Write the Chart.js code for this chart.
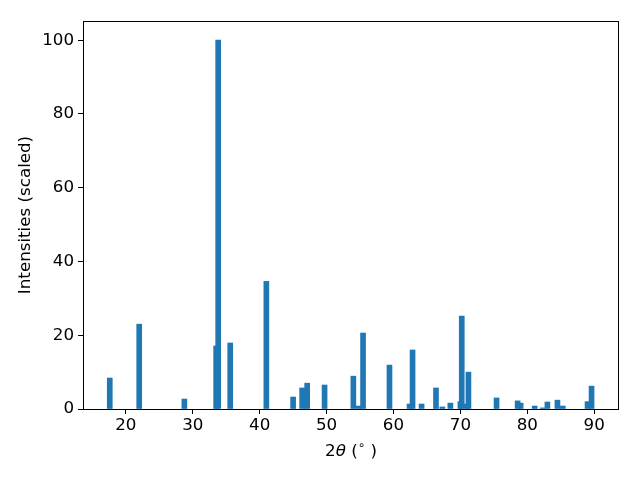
<!DOCTYPE html>
<html>
<head>
<meta charset="utf-8">
<script src="https://cdn.jsdelivr.net/npm/chart.js@4/dist/chart.umd.min.js"></script>
<style>
  html, body { margin: 0; padding: 0; background: #fff; }
  #wrap { width: 640px; height: 480px; }
</style>
</head>
<body>
<div id="wrap"><canvas id="c" width="640" height="480"></canvas></div>
<script>
// peak positions (2theta, degrees) and scaled intensities
const twoTheta = [17.6, 22.0, 28.75, 33.5, 33.8, 35.6, 41.0, 45.0, 46.35, 47.1,
  49.7, 54.0, 54.75, 55.45, 59.4, 62.4, 62.85, 64.2, 66.35, 67.3,
  68.5, 70.0, 70.2, 70.9, 71.2, 75.4, 78.55, 79.0, 81.1, 82.3,
  83.0, 84.5, 85.3, 89.0, 89.6]
const intensity = [8.4, 23.0, 2.7, 17.1, 100, 17.9, 34.6, 3.25, 5.7, 7.0,
  6.5, 8.9, 0.8, 20.6, 11.9, 1.35, 16.0, 1.35, 5.7, 0.55,
  1.6, 2.0, 25.2, 1.35, 10.0, 3.0, 2.2, 1.6, 0.8, 0.3,
  1.9, 2.4, 0.8, 2.0, 6.2]

const xTicks = [20, 30, 40, 50, 60, 70, 80, 90]
const yTicks = [0, 20, 40, 60, 80, 100]

const FONT = "DejaVu Sans"
const SIZE = 16.7

const frameAndLabels = {
  id: 'frameAndLabels',
  afterDraw(chart) {
    const ctx = chart.ctx
    const a = chart.chartArea
    ctx.save()
    ctx.strokeStyle = "#000"
    ctx.lineWidth = 1
    ctx.strokeRect(Math.round(a.left) + 0.5, Math.round(a.top) + 0.5,
      Math.round(a.right - a.left) - 1, Math.round(a.bottom - a.top))

    ctx.fillStyle = "#000"
    ctx.textBaseline = "middle"

    // x label: 2θ (°) with italic theta and raised degree sign
    const y = 452
    const parts = [
      { t: "2", f: `${SIZE}px "${FONT}"`, dy: 0 },
      { t: "θ", f: `italic ${SIZE}px "${FONT}"`, dy: 0 },
      { t: " (", f: `${SIZE}px "${FONT}"`, dy: 0 },
      { t: "∘", f: `12px "${FONT}"`, dy: -6 },
      { t: " )", f: `${SIZE}px "${FONT}"`, dy: 0 }
    ]
    let total = 0
    parts.forEach(p => { ctx.font = p.f; p.w = ctx.measureText(p.t).width; total += p.w })
    let x = (a.left + a.right) / 2 - total / 2
    ctx.textAlign = "left"
    parts.forEach(p => {
      ctx.font = p.f
      ctx.fillText(p.t, x, y + p.dy)
      x += p.w
    })

    // y label
    ctx.translate(26, (a.top + a.bottom) / 2)
    ctx.rotate(-Math.PI / 2)
    ctx.textAlign = "center"
    ctx.font = `${SIZE}px "${FONT}"`
    ctx.fillText("Intensities (scaled)", 0, 0)
    ctx.restore()
  }
}

new Chart(document.getElementById("c"), {
  type: "bar",
  data: {
    datasets: [{
      label: "peaks",
      data: twoTheta.map((t, i) => ({ x: t, y: intensity[i] })),
      backgroundColor: "#1f77b4",
      barThickness: 5,
      borderWidth: 0
    }]
  },
  options: {
    responsive: false,
    animation: false,
    events: [],
    layout: { padding: { top: 21, right: 21, left: 0, bottom: 0 } },
    plugins: { legend: { display: false }, tooltip: { enabled: false } },
    scales: {
      x: {
        type: "linear",
        offset: false,
        min: 13.6,
        max: 93.7,
        afterBuildTicks: s => { s.ticks = xTicks.map(v => ({ value: v })) },
        afterFit: s => { s.height = 71 },
        grid: { offset: false, drawOnChartArea: false, drawTicks: true, tickLength: 5, color: "#000" },
        border: { display: false },
        ticks: { color: "#000", font: { family: FONT, size: SIZE }, padding: 2, maxRotation: 0 }
      },
      y: {
        type: "linear",
        min: 0,
        max: 105.2,
        afterBuildTicks: s => { s.ticks = yTicks.map(v => ({ value: v })) },
        afterFit: s => { s.width = 83 },
        grid: { drawOnChartArea: false, drawTicks: true, tickLength: 5, color: "#000" },
        border: { display: false },
        ticks: { color: "#000", font: { family: FONT, size: SIZE }, padding: 4 }
      }
    }
  },
  plugins: [frameAndLabels]
})
</script>
</body>
</html>
